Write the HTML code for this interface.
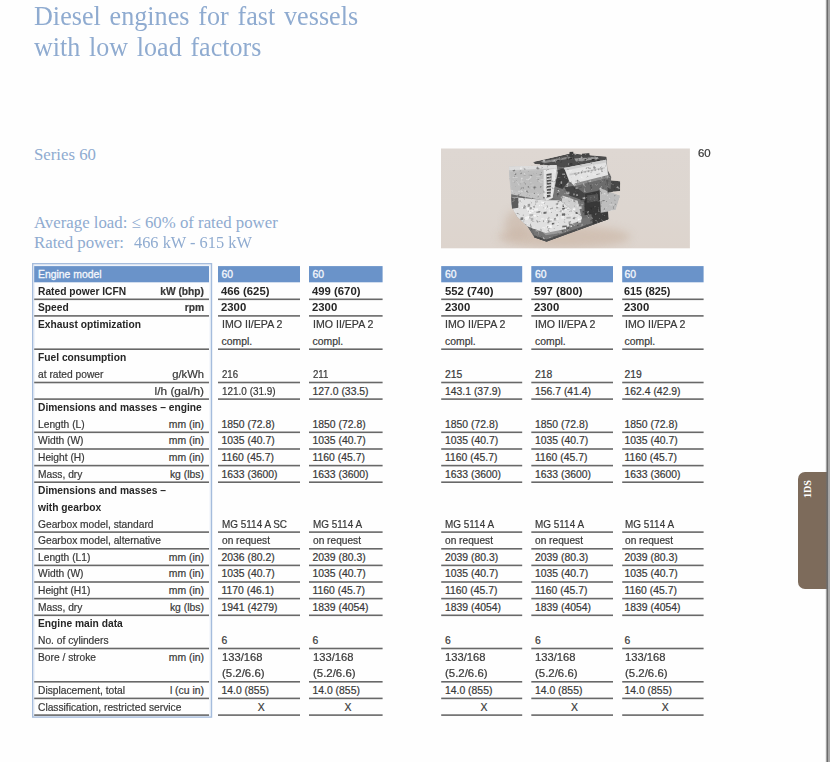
<!DOCTYPE html>
<html><head><meta charset="utf-8"><title>Series 60</title>
<style>
html,body{margin:0;padding:0;}
body{width:830px;height:762px;overflow:hidden;background:#fefefe;position:relative;font-family:"Liberation Sans",sans-serif;}
.t{position:absolute;white-space:nowrap;font-family:"Liberation Serif",serif;color:#8fabd0;transform-origin:0 0;}
.c{position:absolute;white-space:nowrap;font-size:10.4px;line-height:16.63px;height:16.63px;color:#383838;transform-origin:0 50%;margin-top:1.5px;-webkit-text-stroke:0.2px #383838;}
.b{font-weight:bold;color:#262626;transform:scaleX(.985);-webkit-text-stroke:0;}
.bw{transform:scaleX(1.09);margin-left:-0.8px;}
.r{position:absolute;white-space:nowrap;font-size:10.4px;line-height:16.63px;height:16.63px;color:#383838;text-align:right;transform-origin:100% 50%;margin-top:1.5px;-webkit-text-stroke:0.2px #383838;}
.hw{color:#f4f7fc;-webkit-text-stroke:0.3px #f4f7fc;}
</style></head><body>

<div class="t" id="t1" style="left:34px;top:1px;font-size:27px;line-height:30px;transform:scaleX(.968);word-spacing:2.35px;">Diesel engines for fast vessels</div>
<div class="t" id="t2" style="left:34.4px;top:31.7px;font-size:27px;line-height:30px;transform:scaleX(.964);word-spacing:2.35px;">with low load factors</div>
<div class="t" id="t3" style="left:34px;top:145px;font-size:16.8px;line-height:20px;">Series 60</div>
<div class="t" id="t4" style="left:34px;top:213px;font-size:16.8px;line-height:20px;">Average load: ≤ 60% of rated power</div>
<div class="t" id="t5" style="left:34px;top:233.3px;font-size:16.8px;line-height:20px;">Rated power:</div>
<div class="t" id="t6" style="left:134px;top:233.3px;font-size:16.8px;line-height:20px;transform:scaleX(.975);">466 kW - 615 kW</div>
<svg style="position:absolute;left:440px;top:148px;" width="251" height="101" viewBox="440 148 251 101">
<defs><linearGradient id="bg" x1="0" y1="0" x2="0" y2="1"><stop offset="0" stop-color="#ded7d2"/><stop offset=".6" stop-color="#ddd6d0"/><stop offset="1" stop-color="#ddd4cd"/></linearGradient>
<filter id="b1" x="-10%" y="-10%" width="120%" height="120%" color-interpolation-filters="sRGB"><feGaussianBlur in="SourceGraphic" stdDeviation="0.6" result="g"/><feTurbulence type="fractalNoise" baseFrequency="0.3" numOctaves="2" seed="11" result="n"/><feColorMatrix in="n" type="matrix" values="0 0 0 0 0  0 0 0 0 0  0 0 0 0 0  4 0 0 0 -2.55" result="na"/><feFlood flood-color="#fff" flood-opacity=".55" result="w"/><feComposite in="w" in2="na" operator="in" result="wn"/><feColorMatrix in="n" type="matrix" values="0 0 0 0 0  0 0 0 0 0  0 0 0 0 0  0 -4 0 0 1.5" result="nb"/><feFlood flood-color="#222" flood-opacity=".5" result="k"/><feComposite in="k" in2="nb" operator="in" result="kn"/><feMerge result="m"><feMergeNode in="g"/><feMergeNode in="wn"/><feMergeNode in="kn"/></feMerge><feComposite in="m" in2="g" operator="in" result="c"/><feGaussianBlur in="c" stdDeviation="0.35"/></filter>
<filter id="b3" x="-30%" y="-60%" width="160%" height="220%"><feGaussianBlur stdDeviation="4"/></filter>
<clipPath id="cp"><rect x="441" y="148.5" width="248.9" height="99.8"/></clipPath></defs>
<rect x="441" y="148.5" width="248.9" height="99.8" fill="url(#bg)"/>
<g clip-path="url(#cp)">
<ellipse cx="564.2" cy="236.9" rx="66" ry="11" fill="#c9b3a2" opacity=".6" filter="url(#b3)"/>
<ellipse cx="517.0" cy="224.3" rx="12" ry="14" fill="#c9b5a6" opacity=".6" filter="url(#b3)"/>
<g filter="url(#b1)">
<polygon points="509.9,167.9 555.8,165.9 534.2,162.9 569.3,153.8 606.4,156.8 608.4,177.0 609.4,192.6 608.1,212.5 608.4,219.2 546.5,241.8 534.2,237.4 527.1,226.3 517.0,216.7 511.1,206.1 511.1,194.3" fill="#6c6c6c" />
<polygon points="533.0,229.3 564.2,228.5 581.9,218.4 608.1,212.1 608.4,219.2 546.5,241.8 534.2,237.4" fill="#747474" />
<polygon points="534.2,235.2 546.5,239.5 608.1,217.2 608.4,219.2 546.5,241.8 534.2,237.4" fill="#4e4e4e" />
<polygon points="591.2,213.3 608.1,212.1 608.4,219.2 592.9,224.3" fill="#3c3c3c" />
<polygon points="540.6,230.2 560.8,229.3 562.5,232.7 545.7,235.2" fill="#9a9a9a" />
<polygon points="511.6,197.0 546.5,200.3 560.8,200.3 581.9,215.0 581.9,219.2 564.2,229.3 545.7,233.0 527.1,226.3 517.0,216.7 511.1,206.1" fill="#e0e0e0" />
<polygon points="551.6,171.7 564.2,167.8 569.3,181.3 574.3,185.5 585.3,193.6 581.9,216.7 560.8,201.0 551.6,197.6" fill="#767676" />
<polygon points="552.1,172.0 564.2,168.1 568.9,181.1 562.5,188.9 552.7,185.5" fill="#3f3f3f" />
<polygon points="564.2,187.2 574.3,185.8 584.8,193.6 583.8,200.7 569.3,195.6" fill="#444" />
<polygon points="562.5,195.6 577.7,200.7 581.1,215.8 571.0,209.1 561.7,201.5" fill="#cfcfcf" />
<polygon points="599.6,188.0 620.2,195.6 615.7,209.9 600.5,212.8" fill="#bdbdbd" />
<polygon points="606.4,180.1 620.2,181.1 620.2,190.9 608.1,192.6" fill="#474747" />
<polygon points="608.1,170.3 611.4,177.0 610.6,188.9 607.2,187.2" fill="#6a6a6a" />
<polygon points="584.5,193.4 599.6,190.5 600.7,212.8 584.5,215.2" fill="#383838" />
<polygon points="587.0,195.6 598.0,193.9 598.5,200.7 587.3,202.7" fill="#555" />
<polygon points="533.0,161.9 569.3,153.8 574.3,153.4 584.5,155.1 606.4,156.8 606.7,161.0 564.2,168.1 556.6,166.1 534.7,164.1" fill="#4c4c4c" />
<polygon points="540.6,161.5 569.3,156.5 571.0,158.2 544.0,163.2" fill="#8a8a8a" />
<polygon points="574.3,158.5 598.0,157.1 598.8,159.2 576.0,161.5" fill="#9c9c9c" />
<polygon points="508.9,166.6 556.6,164.9 557.8,172.8 552.4,198.1 546.5,201.0 511.1,194.3 509.1,178.7" fill="#c3c3c3" />
<polygon points="508.9,166.6 556.6,164.9 556.8,168.3 509.2,170.3" fill="#dcdcdc" />
<polygon points="510.2,172.0 544.0,170.3 543.6,193.9 511.6,190.9" fill="#bdbdbd" />
<polygon points="543.6,170.3 556.6,168.6 552.7,197.6 546.5,200.7 543.6,195.6" fill="#e4e4e4" />
<polygon points="546.5,174.0 551.6,173.3 550.7,196.4 547.0,197.6" fill="#505050" />
<polygon points="546.7,175.7 551.4,175.2 551.4,176.4 546.7,176.9" fill="#e8e8e8" />
<polygon points="546.7,178.7 551.4,178.2 551.4,179.4 546.7,179.9" fill="#e8e8e8" />
<polygon points="546.7,181.8 551.4,181.3 551.4,182.4 546.7,183.0" fill="#e8e8e8" />
<polygon points="546.7,184.8 551.4,184.3 551.4,185.5 546.7,186.0" fill="#e8e8e8" />
<polygon points="546.7,187.8 551.4,187.3 551.4,188.5 546.7,189.0" fill="#e8e8e8" />
<polygon points="546.7,190.9 551.4,190.4 551.4,191.6 546.7,192.1" fill="#e8e8e8" />
<polygon points="546.7,193.9 551.4,193.4 551.4,194.6 546.7,195.1" fill="#e8e8e8" />
<polygon points="564.2,168.1 606.0,159.8 608.4,177.0 574.3,185.8 569.3,181.3" fill="#e3e3e3" />
<polygon points="564.2,168.1 606.0,159.8 606.4,162.5 565.1,170.6" fill="#cfcfcf" />
<polygon points="569.3,173.7 604.7,166.9 605.0,168.6 569.6,175.4" fill="#c9c9c9" />
<polygon points="574.3,183.5 608.1,175.0 608.4,177.4 574.3,186.2" fill="#8c8c8c" />
<polygon points="511.1,197.3 518.3,198.1 518.3,207.7 511.9,208.8" fill="#5c5c5c" />
<polygon points="538.9,205.0 542.4,204.7 542.4,205.8 538.9,206.2" fill="#fafafa" opacity=".8"/>
<polygon points="541.5,202.3 544.6,202.0 544.6,203.1 541.5,203.4" fill="#ffffff" opacity=".8"/>
<polygon points="544.8,207.6 548.0,207.2 548.0,208.4 544.8,208.7" fill="#fafafa" opacity=".8"/>
<polygon points="577.8,218.7 581.1,218.4 581.1,219.6 577.8,219.9" fill="#ffffff" opacity=".8"/>
<polygon points="521.8,207.0 525.0,206.7 525.0,208.0 521.8,208.3" fill="#ffffff" opacity=".8"/>
<polygon points="527.7,204.0 530.1,203.7 530.1,206.6 527.7,207.0" fill="#8a8a8a" opacity=".8"/>
<polygon points="525.1,217.0 527.1,216.7 527.1,217.9 525.1,218.3" fill="#fafafa" opacity=".8"/>
<polygon points="553.9,218.4 556.9,218.1 556.9,220.3 553.9,220.7" fill="#a5a5a5" opacity=".8"/>
<polygon points="547.7,227.1 550.3,226.8 550.3,228.4 547.7,228.7" fill="#8a8a8a" opacity=".8"/>
<polygon points="562.3,207.7 565.6,207.3 565.6,209.6 562.3,209.9" fill="#a5a5a5" opacity=".8"/>
<polygon points="564.2,208.9 568.9,208.6 568.9,209.9 564.2,210.2" fill="#ffffff" opacity=".8"/>
<polygon points="529.0,210.5 533.5,210.1 533.5,212.1 529.0,212.5" fill="#fafafa" opacity=".8"/>
<polygon points="566.4,217.1 570.7,216.8 570.7,218.5 566.4,218.8" fill="#a5a5a5" opacity=".8"/>
<polygon points="555.8,217.3 558.7,217.0 558.7,219.9 555.8,220.3" fill="#efefef" opacity=".8"/>
<polygon points="548.3,219.7 549.8,219.4 549.8,222.0 548.3,222.4" fill="#606060" opacity=".8"/>
<polygon points="536.4,211.7 540.0,211.4 540.0,212.5 536.4,212.8" fill="#606060" opacity=".8"/>
<polygon points="540.9,218.2 543.9,217.8 543.9,219.4 540.9,219.7" fill="#efefef" opacity=".8"/>
<polygon points="526.7,207.8 529.4,207.4 529.4,210.5 526.7,210.8" fill="#fafafa" opacity=".8"/>
<polygon points="529.1,212.2 531.3,211.8 531.3,213.2 529.1,213.5" fill="#ffffff" opacity=".8"/>
<polygon points="572.6,208.6 575.3,208.3 575.3,210.2 572.6,210.5" fill="#ffffff" opacity=".8"/>
<polygon points="529.7,207.3 531.8,207.0 531.8,209.1 529.7,209.5" fill="#8a8a8a" opacity=".8"/>
<polygon points="535.1,200.8 537.8,200.4 537.8,202.3 535.1,202.7" fill="#a5a5a5" opacity=".8"/>
<polygon points="578.2,220.5 581.2,220.1 581.2,222.6 578.2,222.9" fill="#f4f4f4" opacity=".8"/>
<polygon points="547.2,225.6 551.7,225.3 551.7,227.9 547.2,228.3" fill="#ffffff" opacity=".8"/>
<polygon points="543.5,212.0 546.5,211.6 546.5,213.6 543.5,213.9" fill="#4a4a4a" opacity=".8"/>
<polygon points="522.9,206.6 524.8,206.3 524.8,208.1 522.9,208.5" fill="#f4f4f4" opacity=".8"/>
<polygon points="525.1,216.9 528.2,216.6 528.2,219.8 525.1,220.2" fill="#f4f4f4" opacity=".8"/>
<polygon points="523.1,206.6 525.7,206.3 525.7,208.8 523.1,209.1" fill="#a5a5a5" opacity=".8"/>
<polygon points="556.3,214.3 558.0,213.9 558.0,216.1 556.3,216.4" fill="#606060" opacity=".8"/>
<polygon points="548.7,209.6 550.5,209.3 550.5,212.0 548.7,212.4" fill="#efefef" opacity=".8"/>
<polygon points="548.5,220.5 551.6,220.2 551.6,221.7 548.5,222.0" fill="#a5a5a5" opacity=".8"/>
<polygon points="527.8,216.2 529.3,215.9 529.3,218.2 527.8,218.5" fill="#fafafa" opacity=".8"/>
<polygon points="562.1,208.2 564.7,207.8 564.7,209.2 562.1,209.6" fill="#4a4a4a" opacity=".8"/>
<polygon points="551.9,223.0 554.4,222.7 554.4,224.2 551.9,224.5" fill="#4a4a4a" opacity=".8"/>
<polygon points="569.0,224.1 572.8,223.8 572.8,225.3 569.0,225.7" fill="#606060" opacity=".8"/>
<polygon points="540.9,201.5 542.3,201.2 542.3,202.8 540.9,203.2" fill="#efefef" opacity=".8"/>
<polygon points="530.8,218.0 533.3,217.7 533.3,220.6 530.8,220.9" fill="#a5a5a5" opacity=".8"/>
<polygon points="532.4,207.2 534.4,206.8 534.4,208.3 532.4,208.7" fill="#f4f4f4" opacity=".8"/>
<polygon points="548.6,219.4 552.6,219.0 552.6,220.3 548.6,220.6" fill="#fafafa" opacity=".8"/>
<polygon points="575.5,223.1 579.3,222.8 579.3,224.9 575.5,225.2" fill="#8a8a8a" opacity=".8"/>
<polygon points="545.8,218.9 547.4,218.6 547.4,221.8 545.8,222.1" fill="#ffffff" opacity=".8"/>
<polygon points="547.6,222.0 549.2,221.6 549.2,223.0 547.6,223.4" fill="#8a8a8a" opacity=".8"/>
<polygon points="520.4,217.6 523.3,217.3 523.3,219.8 520.4,220.2" fill="#606060" opacity=".8"/>
<polygon points="559.7,210.7 562.9,210.4 562.9,211.7 559.7,212.0" fill="#f4f4f4" opacity=".8"/>
<polygon points="568.6,221.5 570.3,221.2 570.3,223.9 568.6,224.3" fill="#8a8a8a" opacity=".8"/>
<polygon points="545.7,225.7 549.9,225.3 549.9,226.8 545.7,227.2" fill="#efefef" opacity=".8"/>
<polygon points="532.0,215.0 535.9,214.7 535.9,216.5 532.0,216.8" fill="#ffffff" opacity=".8"/>
<polygon points="564.9,226.4 568.4,226.1 568.4,229.0 564.9,229.3" fill="#ffffff" opacity=".8"/>
<polygon points="570.3,225.8 572.1,225.5 572.1,226.9 570.3,227.2" fill="#f4f4f4" opacity=".8"/>
<polygon points="573.1,222.9 576.5,222.6 576.5,225.4 573.1,225.8" fill="#8a8a8a" opacity=".8"/>
<polygon points="529.4,214.2 533.2,213.9 533.2,216.2 529.4,216.6" fill="#a5a5a5" opacity=".8"/>
<polygon points="561.3,215.9 564.2,215.5 564.2,218.4 561.3,218.7" fill="#f4f4f4" opacity=".8"/>
<polygon points="534.2,208.6 538.1,208.3 538.1,210.5 534.2,210.8" fill="#f4f4f4" opacity=".8"/>
<polygon points="566.1,226.8 569.0,226.5 569.0,228.9 566.1,229.3" fill="#4a4a4a" opacity=".8"/>
<polygon points="561.9,213.6 565.1,213.3 565.1,215.4 561.9,215.8" fill="#4a4a4a" opacity=".8"/>
<polygon points="562.3,225.8 566.8,225.5 566.8,227.1 562.3,227.4" fill="#4a4a4a" opacity=".8"/>
<polygon points="557.8,189.9 559.0,189.9 559.0,191.2 557.8,191.2" fill="#d8d8d8" opacity=".75"/>
<polygon points="560.6,184.2 561.9,184.2 561.9,186.5 560.6,186.5" fill="#2e2e2e" opacity=".75"/>
<polygon points="558.4,207.7 561.7,207.7 561.7,209.0 558.4,209.0" fill="#d8d8d8" opacity=".75"/>
<polygon points="566.2,191.7 569.5,191.7 569.5,194.1 566.2,194.1" fill="#bbbbbb" opacity=".75"/>
<polygon points="575.5,212.2 577.5,212.2 577.5,213.9 575.5,213.9" fill="#2e2e2e" opacity=".75"/>
<polygon points="563.8,201.2 564.8,201.2 564.8,203.1 563.8,203.1" fill="#eeeeee" opacity=".75"/>
<polygon points="575.4,187.5 577.7,187.5 577.7,188.9 575.4,188.9" fill="#d8d8d8" opacity=".75"/>
<polygon points="557.5,209.2 559.1,209.2 559.1,211.6 557.5,211.6" fill="#d8d8d8" opacity=".75"/>
<polygon points="562.2,173.6 565.0,173.6 565.0,174.9 562.2,174.9" fill="#bbbbbb" opacity=".75"/>
<polygon points="579.0,206.4 581.6,206.4 581.6,209.0 579.0,209.0" fill="#eeeeee" opacity=".75"/>
<polygon points="558.6,209.2 561.0,209.2 561.0,211.3 558.6,211.3" fill="#d8d8d8" opacity=".75"/>
<polygon points="562.6,204.4 564.0,204.4 564.0,206.9 562.6,206.9" fill="#2e2e2e" opacity=".75"/>
<polygon points="582.6,197.7 585.5,197.7 585.5,198.7 582.6,198.7" fill="#bbbbbb" opacity=".75"/>
<polygon points="556.1,206.9 558.2,206.9 558.2,208.4 556.1,208.4" fill="#888" opacity=".75"/>
<polygon points="566.8,209.0 569.3,209.0 569.3,210.0 566.8,210.0" fill="#bbbbbb" opacity=".75"/>
<polygon points="582.6,211.2 584.2,211.2 584.2,212.4 582.6,212.4" fill="#2e2e2e" opacity=".75"/>
<polygon points="573.2,193.5 574.7,193.5 574.7,195.2 573.2,195.2" fill="#bbbbbb" opacity=".75"/>
<polygon points="562.3,204.5 565.7,204.5 565.7,205.4 562.3,205.4" fill="#d8d8d8" opacity=".75"/>
<polygon points="576.4,194.3 577.8,194.3 577.8,196.0 576.4,196.0" fill="#eeeeee" opacity=".75"/>
<polygon points="557.3,205.1 559.4,205.1 559.4,206.9 557.3,206.9" fill="#eeeeee" opacity=".75"/>
<polygon points="560.6,181.3 562.1,181.3 562.1,183.8 560.6,183.8" fill="#bbbbbb" opacity=".75"/>
<polygon points="566.4,186.1 567.5,186.1 567.5,187.1 566.4,187.1" fill="#d8d8d8" opacity=".75"/>
<polygon points="573.1,207.6 575.1,207.6 575.1,208.6 573.1,208.6" fill="#eeeeee" opacity=".75"/>
<polygon points="580.5,199.1 582.2,199.1 582.2,200.4 580.5,200.4" fill="#2e2e2e" opacity=".75"/>
<polygon points="555.5,179.5 557.1,179.5 557.1,180.3 555.5,180.3" fill="#2e2e2e" opacity=".75"/>
<polygon points="600.5,160.1 602.6,160.0 602.6,160.9 600.5,161.1" fill="#999" opacity=".8"/>
<polygon points="551.6,160.0 553.3,159.9 553.3,160.6 551.6,160.8" fill="#999" opacity=".8"/>
<polygon points="570.3,158.8 572.3,158.7 572.3,159.3 570.3,159.5" fill="#999" opacity=".8"/>
<polygon points="591.0,157.2 593.2,157.0 593.2,158.1 591.0,158.2" fill="#999" opacity=".8"/>
<polygon points="557.2,159.9 559.4,159.7 559.4,160.9 557.2,161.1" fill="#2a2a2a" opacity=".8"/>
<polygon points="580.5,160.4 583.3,160.2 583.3,161.3 580.5,161.5" fill="#999" opacity=".8"/>
<polygon points="584.6,159.1 586.2,159.0 586.2,160.3 584.6,160.4" fill="#2a2a2a" opacity=".8"/>
<polygon points="540.1,163.7 542.9,163.5 542.9,164.8 540.1,165.0" fill="#2a2a2a" opacity=".8"/>
<polygon points="597.1,159.4 599.2,159.2 599.2,160.7 597.1,160.9" fill="#222" opacity=".8"/>
<polygon points="591.6,159.0 594.4,158.9 594.4,160.2 591.6,160.4" fill="#2a2a2a" opacity=".8"/>
<polygon points="542.8,160.0 545.1,159.9 545.1,161.5 542.8,161.7" fill="#ccc" opacity=".8"/>
<polygon points="592.2,158.9 594.5,158.7 594.5,160.0 592.2,160.2" fill="#2a2a2a" opacity=".8"/>
<polygon points="569.4,158.0 572.0,157.9 572.0,159.3 569.4,159.5" fill="#222" opacity=".8"/>
<polygon points="580.6,157.5 583.1,157.4 583.1,158.3 580.6,158.5" fill="#222" opacity=".8"/>
<polygon points="569.3,151.7 573.5,151.4 573.8,156.8 569.6,157.1" fill="#3c3c3c" />
<polygon points="581.9,153.4 589.5,153.1 589.9,156.1 582.3,156.8" fill="#444" />
<polygon points="536.2,176.3 540.4,176.2 540.4,176.9 536.2,177.0" fill="#cfcfcf" opacity=".8"/>
<polygon points="526.1,179.1 529.4,178.9 529.4,180.0 526.1,180.2" fill="#d6d6d6" opacity=".8"/>
<polygon points="529.6,183.9 531.6,183.7 531.6,184.4 529.6,184.5" fill="#b2b2b2" opacity=".8"/>
<polygon points="530.6,184.8 534.4,184.7 534.4,185.3 530.6,185.5" fill="#cfcfcf" opacity=".8"/>
<polygon points="513.7,177.0 517.6,176.8 517.6,177.9 513.7,178.1" fill="#cfcfcf" opacity=".8"/>
<polygon points="520.3,181.6 523.5,181.4 523.5,182.3 520.3,182.5" fill="#d6d6d6" opacity=".8"/>
<polygon points="540.4,182.2 543.1,182.0 543.1,182.6 540.4,182.8" fill="#cfcfcf" opacity=".8"/>
<polygon points="512.4,180.5 516.9,180.3 516.9,181.7 512.4,181.8" fill="#cfcfcf" opacity=".8"/>
<polygon points="540.4,179.2 545.2,179.0 545.2,180.3 540.4,180.5" fill="#d6d6d6" opacity=".8"/>
<polygon points="528.6,174.6 532.1,174.4 532.1,175.8 528.6,175.9" fill="#aaaaaa" opacity=".8"/>
<polygon points="574.3,173.0 575.7,172.7 575.7,174.3 574.3,174.6" fill="#a0a0a0" />
<polygon points="577.7,172.4 579.1,172.1 579.1,173.7 577.7,174.0" fill="#a0a0a0" />
<polygon points="581.1,171.8 582.4,171.5 582.4,173.1 581.1,173.4" fill="#a0a0a0" />
<polygon points="584.5,171.2 585.8,170.9 585.8,172.5 584.5,172.8" fill="#a0a0a0" />
<polygon points="587.8,170.6 589.2,170.3 589.2,171.9 587.8,172.2" fill="#a0a0a0" />
<polygon points="591.2,170.0 592.6,169.7 592.6,171.3 591.2,171.6" fill="#a0a0a0" />
<polygon points="594.6,169.4 595.9,169.1 595.9,170.7 594.6,171.0" fill="#a0a0a0" />
<polygon points="598.0,168.7 599.3,168.5 599.3,170.1 598.0,170.4" fill="#a0a0a0" />
<polygon points="601.3,168.1 602.7,167.9 602.7,169.5 601.3,169.7" fill="#a0a0a0" />
</g></g></svg>
<div class="c" style="left:698px;top:144.9px;transform:scaleX(1.1);">60</div>
<div style="position:absolute;left:798px;top:472px;width:29px;height:116.5px;background:#7d6b5b;border-radius:7px 0 0 7px;"></div>
<div style="position:absolute;left:801.9px;top:498.3px;transform-origin:0 0;transform:rotate(-90deg) scaleX(.92);font-family:'Liberation Serif',serif;font-weight:bold;font-size:11px;color:#fff;white-space:nowrap;line-height:10px;height:10px;">1DS</div>
<div style="position:absolute;left:825px;top:0;width:5px;height:762px;background:linear-gradient(to right,rgba(110,110,110,0) 0,rgba(110,110,110,.25) 1.1px,#6b6b6b 1.9px,#6b6b6b 2.9px,#a6a6a6 3.4px,#ababab 5px);"></div>
<svg style="position:absolute;left:0;top:0;" width="830" height="762" viewBox="0 0 830 762"><rect x="32.75" y="263.75" width="178.7" height="453.3" fill="none" stroke="#a5bcdc" stroke-width="1.5"/>
<rect x="34" y="265" width="176.2" height="450.8" fill="none" stroke="#dfe8f4" stroke-width="1"/>
<rect x="34.2" y="266.1" width="174.8" height="16.2" fill="#6a93c9"/>
<rect x="218.0" y="266.1" width="82.0" height="16.2" fill="#6a93c9"/>
<rect x="309.0" y="266.1" width="73.6" height="16.2" fill="#6a93c9"/>
<rect x="441.2" y="266.1" width="81.0" height="16.2" fill="#6a93c9"/>
<rect x="531.3" y="266.1" width="81.7" height="16.2" fill="#6a93c9"/>
<rect x="622.2" y="266.1" width="81.4" height="16.2" fill="#6a93c9"/>
<rect x="34.2" y="298.5" width="174.8" height="1.6" fill="#686868"/>
<rect x="218.0" y="298.5" width="82.0" height="1.6" fill="#686868"/>
<rect x="309.0" y="298.5" width="73.6" height="1.6" fill="#686868"/>
<rect x="441.2" y="298.5" width="81.0" height="1.6" fill="#686868"/>
<rect x="531.3" y="298.5" width="81.7" height="1.6" fill="#686868"/>
<rect x="622.2" y="298.5" width="81.4" height="1.6" fill="#686868"/>
<rect x="34.2" y="315.1" width="174.8" height="1.6" fill="#686868"/>
<rect x="218.0" y="315.1" width="82.0" height="1.6" fill="#686868"/>
<rect x="309.0" y="315.1" width="73.6" height="1.6" fill="#686868"/>
<rect x="441.2" y="315.1" width="81.0" height="1.6" fill="#686868"/>
<rect x="531.3" y="315.1" width="81.7" height="1.6" fill="#686868"/>
<rect x="622.2" y="315.1" width="81.4" height="1.6" fill="#686868"/>
<rect x="34.2" y="348.4" width="174.8" height="1.6" fill="#686868"/>
<rect x="218.0" y="348.4" width="82.0" height="1.6" fill="#686868"/>
<rect x="309.0" y="348.4" width="73.6" height="1.6" fill="#686868"/>
<rect x="441.2" y="348.4" width="81.0" height="1.6" fill="#686868"/>
<rect x="531.3" y="348.4" width="81.7" height="1.6" fill="#686868"/>
<rect x="622.2" y="348.4" width="81.4" height="1.6" fill="#686868"/>
<rect x="34.2" y="381.7" width="174.8" height="1.6" fill="#686868"/>
<rect x="218.0" y="381.7" width="82.0" height="1.6" fill="#686868"/>
<rect x="309.0" y="381.7" width="73.6" height="1.6" fill="#686868"/>
<rect x="441.2" y="381.7" width="81.0" height="1.6" fill="#686868"/>
<rect x="531.3" y="381.7" width="81.7" height="1.6" fill="#686868"/>
<rect x="622.2" y="381.7" width="81.4" height="1.6" fill="#686868"/>
<rect x="34.2" y="398.3" width="174.8" height="1.6" fill="#686868"/>
<rect x="218.0" y="398.3" width="82.0" height="1.6" fill="#686868"/>
<rect x="309.0" y="398.3" width="73.6" height="1.6" fill="#686868"/>
<rect x="441.2" y="398.3" width="81.0" height="1.6" fill="#686868"/>
<rect x="531.3" y="398.3" width="81.7" height="1.6" fill="#686868"/>
<rect x="622.2" y="398.3" width="81.4" height="1.6" fill="#686868"/>
<rect x="34.2" y="431.5" width="174.8" height="1.6" fill="#686868"/>
<rect x="218.0" y="431.5" width="82.0" height="1.6" fill="#686868"/>
<rect x="309.0" y="431.5" width="73.6" height="1.6" fill="#686868"/>
<rect x="441.2" y="431.5" width="81.0" height="1.6" fill="#686868"/>
<rect x="531.3" y="431.5" width="81.7" height="1.6" fill="#686868"/>
<rect x="622.2" y="431.5" width="81.4" height="1.6" fill="#686868"/>
<rect x="34.2" y="448.2" width="174.8" height="1.6" fill="#686868"/>
<rect x="218.0" y="448.2" width="82.0" height="1.6" fill="#686868"/>
<rect x="309.0" y="448.2" width="73.6" height="1.6" fill="#686868"/>
<rect x="441.2" y="448.2" width="81.0" height="1.6" fill="#686868"/>
<rect x="531.3" y="448.2" width="81.7" height="1.6" fill="#686868"/>
<rect x="622.2" y="448.2" width="81.4" height="1.6" fill="#686868"/>
<rect x="34.2" y="464.8" width="174.8" height="1.6" fill="#686868"/>
<rect x="218.0" y="464.8" width="82.0" height="1.6" fill="#686868"/>
<rect x="309.0" y="464.8" width="73.6" height="1.6" fill="#686868"/>
<rect x="441.2" y="464.8" width="81.0" height="1.6" fill="#686868"/>
<rect x="531.3" y="464.8" width="81.7" height="1.6" fill="#686868"/>
<rect x="622.2" y="464.8" width="81.4" height="1.6" fill="#686868"/>
<rect x="34.2" y="481.4" width="174.8" height="1.6" fill="#686868"/>
<rect x="218.0" y="481.4" width="82.0" height="1.6" fill="#686868"/>
<rect x="309.0" y="481.4" width="73.6" height="1.6" fill="#686868"/>
<rect x="441.2" y="481.4" width="81.0" height="1.6" fill="#686868"/>
<rect x="531.3" y="481.4" width="81.7" height="1.6" fill="#686868"/>
<rect x="622.2" y="481.4" width="81.4" height="1.6" fill="#686868"/>
<rect x="34.2" y="531.3" width="174.8" height="1.6" fill="#686868"/>
<rect x="218.0" y="531.3" width="82.0" height="1.6" fill="#686868"/>
<rect x="309.0" y="531.3" width="73.6" height="1.6" fill="#686868"/>
<rect x="441.2" y="531.3" width="81.0" height="1.6" fill="#686868"/>
<rect x="531.3" y="531.3" width="81.7" height="1.6" fill="#686868"/>
<rect x="622.2" y="531.3" width="81.4" height="1.6" fill="#686868"/>
<rect x="34.2" y="548.0" width="174.8" height="1.6" fill="#686868"/>
<rect x="218.0" y="548.0" width="82.0" height="1.6" fill="#686868"/>
<rect x="309.0" y="548.0" width="73.6" height="1.6" fill="#686868"/>
<rect x="441.2" y="548.0" width="81.0" height="1.6" fill="#686868"/>
<rect x="531.3" y="548.0" width="81.7" height="1.6" fill="#686868"/>
<rect x="622.2" y="548.0" width="81.4" height="1.6" fill="#686868"/>
<rect x="34.2" y="564.6" width="174.8" height="1.6" fill="#686868"/>
<rect x="218.0" y="564.6" width="82.0" height="1.6" fill="#686868"/>
<rect x="309.0" y="564.6" width="73.6" height="1.6" fill="#686868"/>
<rect x="441.2" y="564.6" width="81.0" height="1.6" fill="#686868"/>
<rect x="531.3" y="564.6" width="81.7" height="1.6" fill="#686868"/>
<rect x="622.2" y="564.6" width="81.4" height="1.6" fill="#686868"/>
<rect x="34.2" y="581.2" width="174.8" height="1.6" fill="#686868"/>
<rect x="218.0" y="581.2" width="82.0" height="1.6" fill="#686868"/>
<rect x="309.0" y="581.2" width="73.6" height="1.6" fill="#686868"/>
<rect x="441.2" y="581.2" width="81.0" height="1.6" fill="#686868"/>
<rect x="531.3" y="581.2" width="81.7" height="1.6" fill="#686868"/>
<rect x="622.2" y="581.2" width="81.4" height="1.6" fill="#686868"/>
<rect x="34.2" y="597.8" width="174.8" height="1.6" fill="#686868"/>
<rect x="218.0" y="597.8" width="82.0" height="1.6" fill="#686868"/>
<rect x="309.0" y="597.8" width="73.6" height="1.6" fill="#686868"/>
<rect x="441.2" y="597.8" width="81.0" height="1.6" fill="#686868"/>
<rect x="531.3" y="597.8" width="81.7" height="1.6" fill="#686868"/>
<rect x="622.2" y="597.8" width="81.4" height="1.6" fill="#686868"/>
<rect x="34.2" y="614.5" width="174.8" height="1.6" fill="#686868"/>
<rect x="218.0" y="614.5" width="82.0" height="1.6" fill="#686868"/>
<rect x="309.0" y="614.5" width="73.6" height="1.6" fill="#686868"/>
<rect x="441.2" y="614.5" width="81.0" height="1.6" fill="#686868"/>
<rect x="531.3" y="614.5" width="81.7" height="1.6" fill="#686868"/>
<rect x="622.2" y="614.5" width="81.4" height="1.6" fill="#686868"/>
<rect x="34.2" y="647.7" width="174.8" height="1.6" fill="#686868"/>
<rect x="218.0" y="647.7" width="82.0" height="1.6" fill="#686868"/>
<rect x="309.0" y="647.7" width="73.6" height="1.6" fill="#686868"/>
<rect x="441.2" y="647.7" width="81.0" height="1.6" fill="#686868"/>
<rect x="531.3" y="647.7" width="81.7" height="1.6" fill="#686868"/>
<rect x="622.2" y="647.7" width="81.4" height="1.6" fill="#686868"/>
<rect x="34.2" y="681.0" width="174.8" height="1.6" fill="#686868"/>
<rect x="218.0" y="681.0" width="82.0" height="1.6" fill="#686868"/>
<rect x="309.0" y="681.0" width="73.6" height="1.6" fill="#686868"/>
<rect x="441.2" y="681.0" width="81.0" height="1.6" fill="#686868"/>
<rect x="531.3" y="681.0" width="81.7" height="1.6" fill="#686868"/>
<rect x="622.2" y="681.0" width="81.4" height="1.6" fill="#686868"/>
<rect x="34.2" y="697.6" width="174.8" height="1.6" fill="#686868"/>
<rect x="218.0" y="697.6" width="82.0" height="1.6" fill="#686868"/>
<rect x="309.0" y="697.6" width="73.6" height="1.6" fill="#686868"/>
<rect x="441.2" y="697.6" width="81.0" height="1.6" fill="#686868"/>
<rect x="531.3" y="697.6" width="81.7" height="1.6" fill="#686868"/>
<rect x="622.2" y="697.6" width="81.4" height="1.6" fill="#686868"/>
<rect x="34.2" y="714.3" width="174.8" height="1.6" fill="#686868"/>
<rect x="218.0" y="714.3" width="82.0" height="1.6" fill="#686868"/>
<rect x="309.0" y="714.3" width="73.6" height="1.6" fill="#686868"/>
<rect x="441.2" y="714.3" width="81.0" height="1.6" fill="#686868"/>
<rect x="531.3" y="714.3" width="81.7" height="1.6" fill="#686868"/>
<rect x="622.2" y="714.3" width="81.4" height="1.6" fill="#686868"/></svg>
<div class="c hw" style="left:38px;top:265.6px;">Engine model</div>
<div class="c hw" style="left:221.5px;top:265.6px;">60</div>
<div class="c hw" style="left:312.5px;top:265.6px;">60</div>
<div class="c hw" style="left:445.0px;top:265.6px;">60</div>
<div class="c hw" style="left:535.0px;top:265.6px;">60</div>
<div class="c hw" style="left:624.5px;top:265.6px;">60</div>
<div class="c b" style="left:38px;top:282.2px;">Rated power ICFN</div>
<div class="r b" style="left:104px;width:100px;top:282.2px;">kW (bhp)</div>
<div class="c b bw" style="left:221.5px;top:282.2px;">466 (625)</div>
<div class="c b bw" style="left:312.5px;top:282.2px;">499 (670)</div>
<div class="c b bw" style="left:446.0px;top:282.2px;">552 (740)</div>
<div class="c b bw" style="left:535.0px;top:282.2px;">597 (800)</div>
<div class="c b bw" style="left:624.5px;top:282.2px;transform:scaleX(1.045);">615 (825)</div>
<div class="c b" style="left:38px;top:298.9px;">Speed</div>
<div class="r b" style="left:104px;width:100px;top:298.9px;">rpm</div>
<div class="c b bw" style="left:221.5px;top:298.9px;">2300</div>
<div class="c b bw" style="left:312.5px;top:298.9px;">2300</div>
<div class="c b bw" style="left:446.0px;top:298.9px;">2300</div>
<div class="c b bw" style="left:535.0px;top:298.9px;">2300</div>
<div class="c b bw" style="left:624.5px;top:298.9px;">2300</div>
<div class="c b" style="left:38px;top:315.5px;">Exhaust optimization</div>
<div class="c" style="left:221.5px;top:315.5px;transform:scaleX(1.02);">IMO II/EPA 2</div>
<div class="c" style="left:312.5px;top:315.5px;transform:scaleX(1.02);">IMO II/EPA 2</div>
<div class="c" style="left:445.0px;top:315.5px;transform:scaleX(1.02);">IMO II/EPA 2</div>
<div class="c" style="left:535.0px;top:315.5px;transform:scaleX(1.02);">IMO II/EPA 2</div>
<div class="c" style="left:624.5px;top:315.5px;transform:scaleX(1.02);">IMO II/EPA 2</div>
<div class="c" style="left:221.5px;top:332.1px;">compl.</div>
<div class="c" style="left:312.5px;top:332.1px;">compl.</div>
<div class="c" style="left:445.0px;top:332.1px;">compl.</div>
<div class="c" style="left:535.0px;top:332.1px;">compl.</div>
<div class="c" style="left:624.5px;top:332.1px;">compl.</div>
<div class="c b" style="left:38px;top:348.8px;">Fuel consumption</div>
<div class="c" style="left:38px;top:365.4px;transform:scaleX(.985);">at rated power</div>
<div class="r" style="left:104px;width:100px;top:365.4px;transform:scaleX(1.08);">g/kWh</div>
<div class="c" style="left:221.5px;top:365.4px;transform:scaleX(0.93);">216</div>
<div class="c" style="left:312.5px;top:365.4px;transform:scaleX(0.93);">211</div>
<div class="c" style="left:445.0px;top:365.4px;">215</div>
<div class="c" style="left:535.0px;top:365.4px;">218</div>
<div class="c" style="left:624.5px;top:365.4px;">219</div>
<div class="r" style="left:104px;width:100px;top:382.0px;transform:scaleX(1.14);">l/h (gal/h)</div>
<div class="c" style="left:221.5px;top:382.0px;transform:scaleX(0.957);">121.0 (31.9)</div>
<div class="c" style="left:312.5px;top:382.0px;">127.0 (33.5)</div>
<div class="c" style="left:445.0px;top:382.0px;">143.1 (37.9)</div>
<div class="c" style="left:535.0px;top:382.0px;">156.7 (41.4)</div>
<div class="c" style="left:624.5px;top:382.0px;">162.4 (42.9)</div>
<div class="c b" style="left:38px;top:398.6px;">Dimensions and masses – engine</div>
<div class="c" style="left:38px;top:415.3px;transform:scaleX(.985);">Length (L)</div>
<div class="r" style="left:104px;width:100px;top:415.3px;">mm (in)</div>
<div class="c" style="left:221.5px;top:415.3px;">1850 (72.8)</div>
<div class="c" style="left:312.5px;top:415.3px;">1850 (72.8)</div>
<div class="c" style="left:445.0px;top:415.3px;">1850 (72.8)</div>
<div class="c" style="left:535.0px;top:415.3px;">1850 (72.8)</div>
<div class="c" style="left:624.5px;top:415.3px;">1850 (72.8)</div>
<div class="c" style="left:38px;top:431.9px;transform:scaleX(.985);">Width (W)</div>
<div class="r" style="left:104px;width:100px;top:431.9px;">mm (in)</div>
<div class="c" style="left:221.5px;top:431.9px;">1035 (40.7)</div>
<div class="c" style="left:312.5px;top:431.9px;">1035 (40.7)</div>
<div class="c" style="left:445.0px;top:431.9px;">1035 (40.7)</div>
<div class="c" style="left:535.0px;top:431.9px;">1035 (40.7)</div>
<div class="c" style="left:624.5px;top:431.9px;">1035 (40.7)</div>
<div class="c" style="left:38px;top:448.5px;transform:scaleX(.985);">Height (H)</div>
<div class="r" style="left:104px;width:100px;top:448.5px;">mm (in)</div>
<div class="c" style="left:221.5px;top:448.5px;">1160 (45.7)</div>
<div class="c" style="left:312.5px;top:448.5px;">1160 (45.7)</div>
<div class="c" style="left:445.0px;top:448.5px;">1160 (45.7)</div>
<div class="c" style="left:535.0px;top:448.5px;">1160 (45.7)</div>
<div class="c" style="left:624.5px;top:448.5px;">1160 (45.7)</div>
<div class="c" style="left:38px;top:465.2px;transform:scaleX(.985);">Mass, dry</div>
<div class="r" style="left:104px;width:100px;top:465.2px;">kg (lbs)</div>
<div class="c" style="left:221.5px;top:465.2px;">1633 (3600)</div>
<div class="c" style="left:312.5px;top:465.2px;">1633 (3600)</div>
<div class="c" style="left:445.0px;top:465.2px;">1633 (3600)</div>
<div class="c" style="left:535.0px;top:465.2px;">1633 (3600)</div>
<div class="c" style="left:624.5px;top:465.2px;">1633 (3600)</div>
<div class="c b" style="left:38px;top:481.8px;">Dimensions and masses –</div>
<div class="c b" style="left:38px;top:498.4px;">with gearbox</div>
<div class="c" style="left:38px;top:515.0px;transform:scaleX(.985);">Gearbox model, standard</div>
<div class="c" style="left:221.5px;top:515.0px;transform:scaleX(0.957);">MG 5114 A SC</div>
<div class="c" style="left:312.5px;top:515.0px;transform:scaleX(0.957);">MG 5114 A</div>
<div class="c" style="left:445.0px;top:515.0px;transform:scaleX(0.957);">MG 5114 A</div>
<div class="c" style="left:535.0px;top:515.0px;transform:scaleX(0.957);">MG 5114 A</div>
<div class="c" style="left:624.5px;top:515.0px;transform:scaleX(0.957);">MG 5114 A</div>
<div class="c" style="left:38px;top:531.7px;transform:scaleX(.985);">Gearbox model, alternative</div>
<div class="c" style="left:221.5px;top:531.7px;transform:scaleX(0.977);">on request</div>
<div class="c" style="left:312.5px;top:531.7px;transform:scaleX(0.977);">on request</div>
<div class="c" style="left:445.0px;top:531.7px;transform:scaleX(0.977);">on request</div>
<div class="c" style="left:535.0px;top:531.7px;transform:scaleX(0.977);">on request</div>
<div class="c" style="left:624.5px;top:531.7px;transform:scaleX(0.977);">on request</div>
<div class="c" style="left:38px;top:548.3px;transform:scaleX(.985);">Length (L1)</div>
<div class="r" style="left:104px;width:100px;top:548.3px;">mm (in)</div>
<div class="c" style="left:221.5px;top:548.3px;">2036 (80.2)</div>
<div class="c" style="left:312.5px;top:548.3px;">2039 (80.3)</div>
<div class="c" style="left:445.0px;top:548.3px;">2039 (80.3)</div>
<div class="c" style="left:535.0px;top:548.3px;">2039 (80.3)</div>
<div class="c" style="left:624.5px;top:548.3px;">2039 (80.3)</div>
<div class="c" style="left:38px;top:564.9px;transform:scaleX(.985);">Width (W)</div>
<div class="r" style="left:104px;width:100px;top:564.9px;">mm (in)</div>
<div class="c" style="left:221.5px;top:564.9px;">1035 (40.7)</div>
<div class="c" style="left:312.5px;top:564.9px;">1035 (40.7)</div>
<div class="c" style="left:445.0px;top:564.9px;">1035 (40.7)</div>
<div class="c" style="left:535.0px;top:564.9px;">1035 (40.7)</div>
<div class="c" style="left:624.5px;top:564.9px;">1035 (40.7)</div>
<div class="c" style="left:38px;top:581.6px;transform:scaleX(.985);">Height (H1)</div>
<div class="r" style="left:104px;width:100px;top:581.6px;">mm (in)</div>
<div class="c" style="left:221.5px;top:581.6px;">1170 (46.1)</div>
<div class="c" style="left:312.5px;top:581.6px;">1160 (45.7)</div>
<div class="c" style="left:445.0px;top:581.6px;">1160 (45.7)</div>
<div class="c" style="left:535.0px;top:581.6px;">1160 (45.7)</div>
<div class="c" style="left:624.5px;top:581.6px;">1160 (45.7)</div>
<div class="c" style="left:38px;top:598.2px;transform:scaleX(.985);">Mass, dry</div>
<div class="r" style="left:104px;width:100px;top:598.2px;">kg (lbs)</div>
<div class="c" style="left:221.5px;top:598.2px;">1941 (4279)</div>
<div class="c" style="left:312.5px;top:598.2px;">1839 (4054)</div>
<div class="c" style="left:445.0px;top:598.2px;">1839 (4054)</div>
<div class="c" style="left:535.0px;top:598.2px;">1839 (4054)</div>
<div class="c" style="left:624.5px;top:598.2px;">1839 (4054)</div>
<div class="c b" style="left:38px;top:614.8px;">Engine main data</div>
<div class="c" style="left:38px;top:631.5px;transform:scaleX(.985);">No. of cylinders</div>
<div class="c" style="left:221.5px;top:631.5px;">6</div>
<div class="c" style="left:312.5px;top:631.5px;">6</div>
<div class="c" style="left:445.0px;top:631.5px;">6</div>
<div class="c" style="left:535.0px;top:631.5px;">6</div>
<div class="c" style="left:624.5px;top:631.5px;">6</div>
<div class="c" style="left:38px;top:648.1px;transform:scaleX(.985);">Bore / stroke</div>
<div class="r" style="left:104px;width:100px;top:648.1px;">mm (in)</div>
<div class="c" style="left:221.5px;top:648.1px;transform:scaleX(1.075);">133/168</div>
<div class="c" style="left:312.5px;top:648.1px;transform:scaleX(1.075);">133/168</div>
<div class="c" style="left:445.0px;top:648.1px;transform:scaleX(1.075);">133/168</div>
<div class="c" style="left:535.0px;top:648.1px;transform:scaleX(1.075);">133/168</div>
<div class="c" style="left:624.5px;top:648.1px;transform:scaleX(1.075);">133/168</div>
<div class="c" style="left:221.5px;top:664.7px;transform:scaleX(1.1);">(5.2/6.6)</div>
<div class="c" style="left:312.5px;top:664.7px;transform:scaleX(1.1);">(5.2/6.6)</div>
<div class="c" style="left:445.0px;top:664.7px;transform:scaleX(1.1);">(5.2/6.6)</div>
<div class="c" style="left:535.0px;top:664.7px;transform:scaleX(1.1);">(5.2/6.6)</div>
<div class="c" style="left:624.5px;top:664.7px;transform:scaleX(1.1);">(5.2/6.6)</div>
<div class="c" style="left:38px;top:681.4px;transform:scaleX(.985);">Displacement, total</div>
<div class="r" style="left:104px;width:100px;top:681.4px;">l (cu in)</div>
<div class="c" style="left:221.5px;top:681.4px;">14.0 (855)</div>
<div class="c" style="left:312.5px;top:681.4px;">14.0 (855)</div>
<div class="c" style="left:445.0px;top:681.4px;">14.0 (855)</div>
<div class="c" style="left:535.0px;top:681.4px;">14.0 (855)</div>
<div class="c" style="left:624.5px;top:681.4px;">14.0 (855)</div>
<div class="c" style="left:38px;top:698.0px;transform:scaleX(.985);">Classification, restricted service</div>
<div class="c" style="left:257.8px;top:698.0px;">X</div>
<div class="c" style="left:344.6px;top:698.0px;">X</div>
<div class="c" style="left:480.5px;top:698.0px;">X</div>
<div class="c" style="left:570.9px;top:698.0px;">X</div>
<div class="c" style="left:661.7px;top:698.0px;">X</div>
</body></html>
